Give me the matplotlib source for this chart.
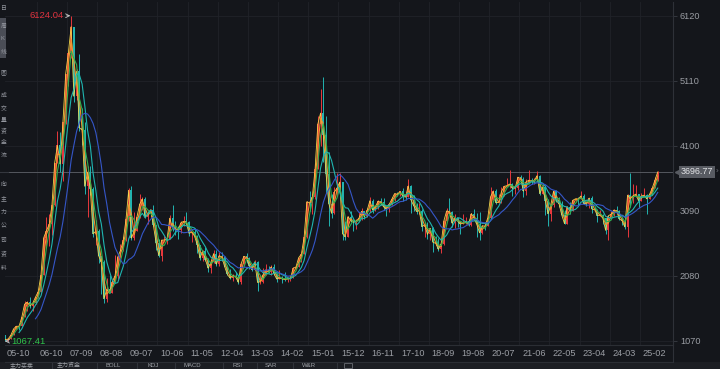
import numpy as np
import pandas as pd
import matplotlib.pyplot as plt
from matplotlib.patches import Rectangle

plt.rcParams['font.family'] = ['Liberation Sans', 'Noto Sans CJK SC', 'DejaVu Sans']

# monthly bars, 2005-10 .. 2025-08
first_open = 1155.6
closes = [
    1092.8, 1099.3, 1161.1,
    1258.1, 1299.0, 1298.3, 1440.2, 1641.3, 1672.2, 1612.7, 1658.6, 1752.4, 1837.9, 2099.3, 2675.5,
    2786.3, 2881.1, 3183.9, 3841.3, 4109.6, 3820.7, 4471.0, 5218.8, 5552.3, 5954.8, 4871.8, 5261.6,
    4383.4, 4348.5, 3472.7, 3693.1, 3433.4, 2736.1, 2775.7, 2397.4, 2293.8, 1728.8, 1871.2, 1820.8,
    1990.7, 2082.9, 2373.2, 2477.6, 2632.9, 2959.4, 3412.1, 2667.7, 2779.4, 2995.9, 3195.3, 3277.1,
    2989.3, 3051.9, 3109.1, 2870.6, 2592.2, 2398.4, 2637.5, 2638.8, 2655.7, 2978.8, 2820.2, 2808.1,
    2790.7, 2905.1, 2928.1, 2911.5, 2743.5, 2762.1, 2701.7, 2567.3, 2359.2, 2468.3, 2333.4, 2199.4,
    2292.6, 2428.5, 2262.8, 2396.3, 2372.2, 2225.4, 2103.6, 2047.5, 2086.2, 2068.9, 1980.1, 2269.1,
    2385.4, 2365.6, 2236.6, 2177.9, 2300.6, 1979.2, 1993.8, 2098.4, 2174.7, 2141.6, 2220.5, 2116.0,
    2033.1, 2056.3, 2033.3, 2026.4, 2039.2, 2048.3, 2201.6, 2217.2, 2363.9, 2420.2, 2682.8, 3234.7,
    3210.4, 3310.3, 3747.9, 4441.7, 4611.7, 4277.2, 3663.7, 3205.9, 3052.8, 3382.6, 3445.4, 3539.2,
    2737.6, 2688.0, 3003.9, 2938.3, 2916.6, 2929.6, 2979.3, 3085.5, 3004.7, 3100.5, 3250.0, 3103.6,
    3159.2, 3241.7, 3222.5, 3154.7, 3117.2, 3192.4, 3273.0, 3360.8, 3348.9, 3393.3, 3317.2, 3307.2,
    3480.8, 3259.4, 3168.9, 3082.2, 3095.5, 2847.4, 2876.4, 2725.3, 2821.4, 2602.8, 2588.2, 2493.9,
    2584.6, 2940.9, 3090.8, 3078.3, 2898.7, 2978.9, 2932.5, 2886.2, 2905.2, 2929.1, 2871.9, 3050.1,
    2976.5, 2880.3, 2750.3, 2860.1, 2852.4, 2984.7, 3310.0, 3395.7, 3218.1, 3224.5, 3391.8, 3473.1,
    3483.1, 3509.1, 3441.9, 3446.9, 3615.5, 3591.2, 3397.4, 3543.9, 3568.2, 3547.3, 3563.9, 3639.8,
    3361.4, 3462.3, 3252.2, 3047.1, 3186.4, 3398.6, 3253.2, 3202.1, 3024.4, 2893.5, 3151.3, 3089.3,
    3255.7, 3279.6, 3272.9, 3323.3, 3204.6, 3202.1, 3291.0, 3119.9, 3110.5, 3018.8, 3029.7, 2974.9,
    2788.6, 3015.2, 3041.2, 3104.8, 3086.8, 2967.4, 2938.8, 2842.2, 3336.5, 3279.8, 3326.5, 3351.8,
    3250.6, 3320.9, 3335.8, 3279.0, 3347.5, 3444.4, 3573.2, 3696.77,
]
highs = [
    1156, 1110, 1181,
    1262, 1309, 1306, 1445, 1693, 1688, 1757, 1660, 1760, 1840, 2099, 2698,
    2994, 3049, 3184, 3842, 4335, 4312, 4480, 5219, 5562, 6124.04, 5915, 5303,
    5522, 4695, 4472, 3786, 3786, 3459, 2952, 2809, 2357, 2333, 2053, 2100,
    2006, 2402, 2406, 2579, 2688, 2987, 3455, 3478, 3068, 3002, 3361, 3306,
    3306, 3078, 3128, 3181, 2878, 2650, 2643, 2700, 2700, 3025, 3186, 2940,
    2853, 2939, 3018, 3067, 2931, 2767, 2827, 2714, 2563, 2484, 2536, 2359,
    2302, 2478, 2478, 2454, 2453, 2390, 2246, 2192, 2110, 2140, 2091, 2276,
    2394, 2445, 2370, 2269, 2335, 2316, 2093, 2206, 2270, 2242, 2244, 2260,
    2113, 2177, 2076, 2146, 2060, 2082, 2223, 2248, 2371, 2422, 2683, 3239,
    3406, 3352, 3836, 4572, 4986, 5178, 4572, 4006, 3358, 3462, 3679, 3684,
    3539, 2934, 3018, 3097, 2945, 2961, 3071, 3140, 3094, 3134, 3301, 3271,
    3174, 3260, 3287, 3295, 3167, 3193, 3301, 3376, 3391, 3399, 3450, 3329,
    3587, 3495, 3334, 3220, 3219, 3124, 2915, 2915, 2827, 2838, 2703, 2667,
    2630, 2947, 3129, 3288, 3083, 3049, 2977, 2935, 3048, 2998, 2969, 3065,
    3127, 3058, 3074, 2870, 2918, 3003, 3458, 3424, 3426, 3359, 3456, 3474,
    3600, 3732, 3530, 3481, 3625, 3655, 3618, 3581, 3723, 3598, 3595, 3708,
    3651, 3510, 3494, 3282, 3195, 3424, 3421, 3300, 3247, 3111, 3165, 3226,
    3265, 3297, 3310, 3398, 3349, 3250, 3294, 3322, 3159, 3125, 3101, 3050,
    2988, 3020, 3091, 3118, 3175, 3100, 3001, 2940, 3359, 3674, 3509, 3494,
    3352, 3362, 3440, 3358, 3392, 3455, 3611, 3704,
]
lows = [
    1067.41, 1074, 1097,
    1163, 1253, 1243, 1296, 1437, 1541, 1582, 1541, 1638, 1736, 1842, 2090,
    2540, 2541, 2721, 3172, 3842, 3690, 3563, 4442, 5032, 5462, 4778, 4812,
    4330, 4123, 3357, 2990, 3333, 2693, 2566, 2284, 1802, 1664, 1678, 1814,
    1844, 1990, 2037, 2361, 2461, 2623, 2941, 2640, 2639, 2776, 2985, 3112,
    2982, 2890, 2999, 2853, 2481, 2382, 2319, 2606, 2572, 2660, 2774, 2721,
    2661, 2752, 2850, 2889, 2704, 2610, 2688, 2437, 2331, 2307, 2319, 2135,
    2132, 2275, 2242, 2235, 2314, 2218, 2100, 2029, 2002, 2055, 1959, 1949,
    2251, 2284, 2191, 2155, 2166, 1849, 1951, 1971, 2093, 2124, 2102, 2101,
    1985, 2030, 1974, 2009, 1991, 2010, 2046, 2187, 2215, 2296, 2419, 2674,
    3095, 3049, 3282, 3748, 4099, 3847, 3373, 2850, 2983, 3039, 3327, 3328,
    2638, 2638, 2683, 2922, 2781, 2807, 2931, 2951, 2969, 3004, 3071, 3057,
    3093, 3127, 3180, 3111, 3017, 3071, 3183, 3242, 3319, 3328, 3253, 3254,
    3305, 3063, 3091, 3041, 3041, 2782, 2691, 2653, 2644, 2449, 2562, 2463,
    2440, 2564, 2955, 3063, 2838, 2822, 2844, 2733, 2896, 2891, 2857, 2857,
    2953, 2685, 2646, 2731, 2798, 2853, 3018, 3254, 3202, 3213, 3210, 3326,
    3472, 3455, 3329, 3356, 3416, 3546, 3312, 3344, 3531, 3512, 3504, 3560,
    3342, 3357, 3023, 2863, 2928, 3158, 3227, 3155, 3020, 2886, 2897, 3037,
    3088, 3223, 3179, 3271, 3196, 3166, 3140, 3053, 3100, 2923, 3013, 2882,
    2725, 2635, 2998, 3005, 3077, 2945, 2865, 2815, 2690, 3152, 3218, 3305,
    3141, 3240, 3328, 3041, 3275, 3331, 3450, 3551,
]

tick_labels = ['05-10', '06-10', '07-09', '08-08', '09-07', '10-06', '11-05', '12-04',
               '13-03', '14-02', '15-01', '15-12', '16-11', '17-10', '18-09', '19-08',
               '20-07', '21-06', '22-05', '23-04', '24-03', '25-02']
y_ticks = [1070, 2080, 3090, 4100, 5110, 6120]
ma_windows = [2, 3, 6, 12]
ma_colors = ['#f0962e', '#2fae4e', '#1fb5b0', '#3556c8']
last_price = 3696.77
max_price = 6124.04
min_price = 1067.41
tabs = ['主力买卖', '主力资金', 'BOLL', 'KDJ', 'MACD', 'RSI', 'SAR', 'W&R']
side_chars = ['日', '周', 'K', '线', '图', '成', '交', '量', '资', '金', '流', '向', '主', '力', '公', '司', '资', '料']

bg = '#14161b'
grid_c = '#202329'
txt_c = '#9a9da3'
up_c = '#e8383d'
dn_c = '#22b3b0'

fig = plt.figure(figsize=(7.2, 3.69), dpi=100, facecolor=bg)
W, H = 720, 369
ax = fig.add_axes([5 / W, (H - 345) / H, 668 / W, 343 / H], facecolor=bg)

n = len(closes)
x = np.arange(n)
c = np.array(closes)
o = np.r_[first_open, c[:-1]]
hi = np.maximum(np.array(highs), np.maximum(o, c))
lo = np.minimum(np.array(lows), np.minimum(o, c))
up = c >= o
cols = np.where(up, up_c, dn_c)

# grid
for i, lab in enumerate(tick_labels):
    yy, mm = int(lab[:2]), int(lab[3:])
    pos = (yy - 5) * 12 + (mm - 10) - 0.5
    ax.axvline(pos, color=grid_c, lw=0.6, zorder=0)
    ax.text(pos + 1.0, -0.024, lab, transform=ax.get_xaxis_transform(), ha='left', va='center',
            fontsize=6.6, color=txt_c, clip_on=False)
for v in y_ticks:
    ax.axhline(v, color=grid_c, lw=0.6, zorder=0)

# candles
ax.vlines(x, lo, hi, colors=cols, lw=0.7, zorder=2)
body = np.maximum(np.abs(c - o), 8)
ax.bar(x, body, bottom=np.minimum(c, o), width=0.72, color=cols, linewidth=0, zorder=2)

# close line + moving averages
ax.plot(x, c, color='#f3d64a', lw=0.6, zorder=3)
s = pd.Series(c)
for w, col in zip(ma_windows, ma_colors):
    ax.plot(x, s.rolling(w).mean(), color=col, lw=0.8, zorder=3)

# last price line + label
ax.axhline(last_price, color='#55585f', lw=0.7, zorder=1)
ax.text(1.012, last_price, f'{last_price:.2f}', transform=ax.get_yaxis_transform(), ha='left', va='center',
        fontsize=6.4, color='#e2e3e6', clip_on=False,
        bbox=dict(boxstyle='square,pad=0.2', fc='#585b62', ec='none'))
ax.plot([1.006], [last_price], marker='<', ms=3, color='#585b62', transform=ax.get_yaxis_transform(), clip_on=False)
fig.text(716 / W, 1 - 172 / H, '›', color='#6d7077', fontsize=6, ha='left', va='center')

# extremes
imax = int(np.argmax(hi))
imin = int(np.argmin(lo))
ax.annotate(f'{max_price:.2f}', xy=(imax - 0.3, max_price), xytext=(imax - 2.6, max_price),
            color='#e0333f', fontsize=6.8, ha='right', va='center',
            arrowprops=dict(arrowstyle='->', color='#c8c8c8', lw=0.6, shrinkA=0, shrinkB=0))
ax.annotate(f'{min_price:.2f}', xy=(imin - 0.2, min_price), xytext=(imin + 2.2, min_price),
            color='#2fc24a', fontsize=6.8, ha='left', va='center',
            arrowprops=dict(arrowstyle='->', color='#c8c8c8', lw=0.6, shrinkA=0, shrinkB=0))

ax.set_xlim(-0.135, 243.57)
ax.set_ylim(1007.8, 6337.5)
ax.set_xticks([])
ax.yaxis.tick_right()
ax.set_yticks(y_ticks)
ax.set_yticklabels([str(v) for v in y_ticks])
ax.tick_params(axis='y', length=3, width=0.6, color='#3a3d44', labelsize=6.6, labelcolor=txt_c, pad=2)
for side in ['left', 'top']:
    ax.spines[side].set_visible(False)
ax.spines['right'].set_color('#2e3138')
ax.spines['bottom'].set_color('#2b2e34')
ax.spines['right'].set_linewidth(0.8)
ax.spines['bottom'].set_linewidth(0.8)

# bottom bands
fig.add_artist(Rectangle((0, 0), 1, 7 / H, transform=fig.transFigure, fc='#1c1e23', ec='none', zorder=0))
fig.add_artist(plt.Line2D([5 / W, 673 / W], [1 - 362 / H] * 2, transform=fig.transFigure, color='#2b2e34', lw=0.8))
fig.add_artist(plt.Line2D([673 / W, 673 / W], [1 - 362 / H, 1 - 345 / H], transform=fig.transFigure, color='#2e3138', lw=0.8))
tab_x = [10, 57, 105, 147, 183, 232, 265, 302]
seps = [52, 97, 137, 175, 223, 257, 293, 337]
for tx, t in zip(tab_x, tabs):
    fig.text(tx / W, 3.6 / H, t, fontsize=4.3, color='#9fa2a8', ha='left', va='center')
for sx in seps:
    fig.add_artist(plt.Line2D([sx / W] * 2, [0, 6 / H], transform=fig.transFigure, color='#30333a', lw=0.8))
fig.add_artist(Rectangle((344 / W, 1 / H), 8 / W, 5 / H, transform=fig.transFigure, fc='none', ec='#6a6d74', lw=0.6))

# left toolbar
fig.add_artist(Rectangle((0, 1 - 58 / H), 6 / W, 40 / H, transform=fig.transFigure, fc='#4a4d56', ec='none'))
side_y = [8, 26, 39, 52, 72, 95, 108, 120, 131, 143, 155, 184, 198, 212, 226, 240, 254, 268]
for yy, ch in zip(side_y, side_chars):
    fig.text(0.5 / W, 1 - yy / H, ch, fontsize=4.2, color='#9598a0', ha='left', va='center')
fig.add_artist(plt.Line2D([0, 8 / W], [1 - 172 / H] * 2, transform=fig.transFigure, color='#34373e', lw=0.8))

fig.savefig('out.png', dpi=100, facecolor=bg)
